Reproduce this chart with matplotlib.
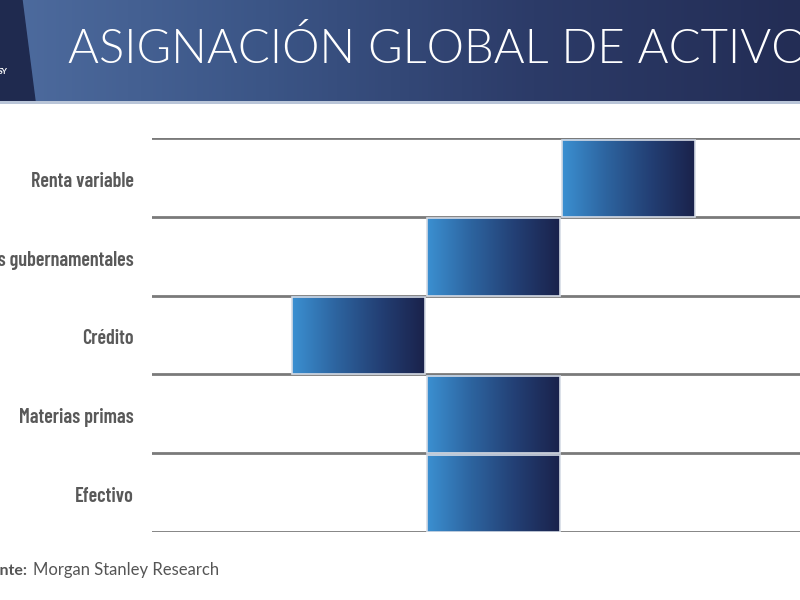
import numpy as np
import matplotlib.pyplot as plt
from matplotlib.colors import LinearSegmentedColormap
from matplotlib.patches import Polygon, Rectangle

# datos
categorias = ["Renta variable", "Bonos gubernamentales", "Crédito",
              "Materias primas", "Efectivo"]
# posición: -1 infraponderar, 0 neutral, +1 sobreponderar
posicion = [1, 0, -1, 0, 0]
titulo = "ASIGNACIÓN GLOBAL DE ACTIVOS"
fuente = "Morgan Stanley Research"

W, H = 800, 600
fig = plt.figure(figsize=(8, 6), dpi=100)
fig.patch.set_facecolor("white")

# cabecera
hdr = fig.add_axes([0, 1 - 101 / H, 1, 101 / H])
hdr.set_xlim(0, W)
hdr.set_ylim(101, 0)
hdr.axis("off")
cab = LinearSegmentedColormap.from_list("cab", ["#4e6c9f", "#3b5586", "#2c3b68", "#232d55"])
grad = np.linspace(0, 1, 256).reshape(1, -1)
hdr.imshow(grad, cmap=cab, aspect="auto", extent=[0, W, 101, 0])
hdr.add_patch(Polygon([[0, 0], [22, 0], [35, 101], [0, 101]], color="#1f2a4f"))
hdr.text(-2, 72, "SY", color="white", fontsize=6, fontweight="bold",
         fontfamily="Lato", va="center", ha="left")
hdr.text(68, 63, titulo, color="white", fontsize=34, fontfamily="Lato",
         fontweight=300, va="baseline", ha="left")
fig.add_artist(Rectangle((0, 1 - 104 / H), 1, 3 / H, transform=fig.transFigure,
                         color="#b9c5d8", lw=0))

# gráfico
x0, x1 = 152, 800
y0, y1 = 138, 532
ax = fig.add_axes([x0 / W, 1 - y1 / H, (x1 - x0) / W, (y1 - y0) / H])
col = 135
xmin, xmax = (x0 - 157) / col, (x1 - 157) / col
caja = LinearSegmentedColormap.from_list("caja", ["#3b90d1", "#2d649f", "#233f74", "#1a224b"])
for i in range(len(categorias) + 1):
    ax.axhline(i, color="#7a7a7a", lw=2, zorder=1)

for i, (cat, p) in enumerate(zip(categorias, posicion)):
    c = 2 + p
    ax.add_patch(Rectangle((c, i + 0.02), 0.985, 0.98, facecolor="none",
                           edgecolor="#d5dbe5", lw=1.2, zorder=3))
    ax.imshow(grad, cmap=caja, aspect="auto", extent=[c, c + 0.985, i + 1, i + 0.02],
              zorder=2)
    ax.text((134 - 157) / col, i + 0.62, cat, ha="right", va="baseline",
            fontsize=14.5, fontweight=600, fontfamily="Barlow Condensed",
            color="#595959", clip_on=False)
ax.set_xlim(xmin, xmax)
ax.set_ylim(len(categorias), 0)
ax.axis("off")

# fuente
fig.text(28 / W, 1 - 575 / H, "Fuente:", fontsize=11.5, fontweight="bold",
         fontfamily="Lato", color="#555555", va="baseline", ha="right")
fig.text(33 / W, 1 - 575 / H, fuente, fontsize=12, fontfamily="Lato",
         color="#555555", va="baseline", ha="left")

fig.savefig("out.png", dpi=100)
